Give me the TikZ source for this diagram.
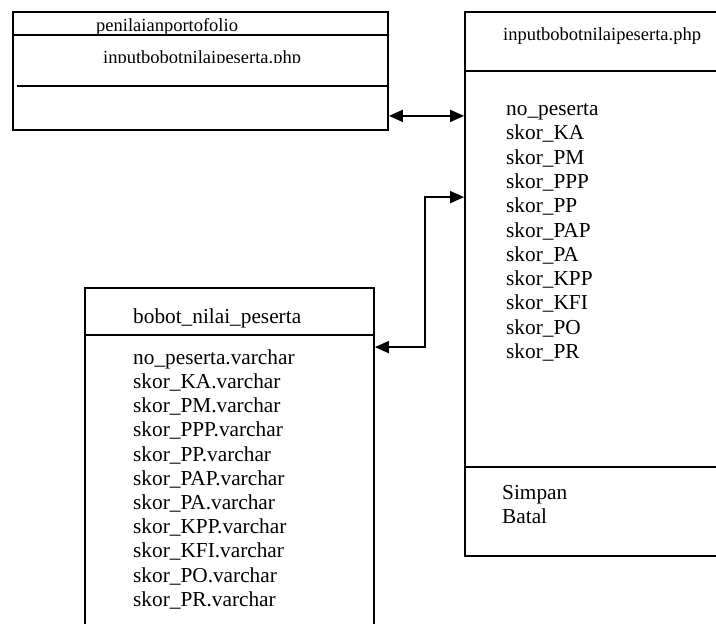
\documentclass[tikz,border=0pt]{standalone}
\usepackage{fontspec}
\setmainfont{Liberation Serif}
\usetikzlibrary{arrows.meta,calc}
\tikzset{
  box/.style={draw,line width=1.8pt,inner sep=0pt},
  hd/.style={font=\fontsize{18.5}{22}\selectfont,anchor=base west,inner sep=0pt},
  fld/.style={font=\fontsize{21.3}{24}\selectfont,anchor=base west,inner sep=0pt},
  link/.style={{Triangle[length=14pt,width=12pt]}-{Triangle[length=14pt,width=12pt]},line width=1.8pt}
}
\begin{document}
\begin{tikzpicture}[x=1pt,y=-1pt]
  \clip (0,0) rectangle (716,624);
  \fill[white] (0,0) rectangle (716,624);
  % boxes
  \node[box,minimum width=375pt,minimum height=118pt] (portofolio) at (200.5,71) {};
  \node[box,minimum width=295pt,minimum height=544pt] (form) at (612.5,284) {};
  \node[box,minimum width=289pt,minimum height=362pt] (bobot) at (229.5,469) {};
  \draw[line width=1.8pt] (13,35) -- (388,35);
  \draw[line width=1.8pt] (17,86) -- (388,86);
  \draw[line width=1.8pt] (465,71) -- (760,71);
  \draw[line width=1.8pt] (465,467) -- (760,467);
  \draw[line width=1.8pt] (85,335) -- (374,335);
  % penilaianportofolio
  \node[hd] (pttl) at (96,31.7) {penilaianportofolio};
  \begin{scope}
    \clip (13,35) rectangle (388,62);
    \node[hd] (pform) at (103,63) {inputbobotnilaipeserta.php};
  \end{scope}
  % inputbobotnilaipeserta.php
  \node[hd] (fttl) at (503,40) {inputbobotnilaipeserta.php};
  \node[fld] (fno) at (506,115.5) {no\_peserta};
  \node[fld] (fka) at (506,139.8) {skor\_KA};
  \node[fld] (fpm) at (506,164.1) {skor\_PM};
  \node[fld] (fppp) at (506,188.4) {skor\_PPP};
  \node[fld] (fpp) at (506,212.7) {skor\_PP};
  \node[fld] (fpap) at (506,237.0) {skor\_PAP};
  \node[fld] (fpa) at (506,261.3) {skor\_PA};
  \node[fld] (fkpp) at (506,285.6) {skor\_KPP};
  \node[fld] (fkfi) at (506,309.9) {skor\_KFI};
  \node[fld] (fpo) at (506,334.2) {skor\_PO};
  \node[fld] (fpr) at (506,358.5) {skor\_PR};
  \node[fld] (simpan) at (502,499.3) {Simpan};
  \node[fld] (batal) at (502,523.3) {Batal};
  % bobot_nilai_peserta
  \node[fld] (bttl) at (133,323.3) {bobot\_nilai\_peserta};
  \node[fld] (bno) at (133,364.3) {no\_peserta.varchar};
  \node[fld] (bka) at (133,388.5) {skor\_KA.varchar};
  \node[fld] (bpm) at (133,412.7) {skor\_PM.varchar};
  \node[fld] (bppp) at (133,436.9) {skor\_PPP.varchar};
  \node[fld] (bpp) at (133,461.1) {skor\_PP.varchar};
  \node[fld] (bpap) at (133,485.3) {skor\_PAP.varchar};
  \node[fld] (bpa) at (133,509.5) {skor\_PA.varchar};
  \node[fld] (bkpp) at (133,533.7) {skor\_KPP.varchar};
  \node[fld] (bkfi) at (133,557.9) {skor\_KFI.varchar};
  \node[fld] (bpo) at (133,582.1) {skor\_PO.varchar};
  \node[fld] (bpr) at (133,606.3) {skor\_PR.varchar};
  % connectors
  \coordinate (p1) at ($(portofolio.south east)+(0,-15)$);
  \coordinate (b1) at ($(bobot.north east)+(0,60)$);
  \coordinate (f1) at ($(form.north west)+(0,186)$);
  \draw[link] (p1) -- (p1 -| form.west);
  \draw[link] (b1) -- ++(50,0) |- (f1);
\end{tikzpicture}
\end{document}
